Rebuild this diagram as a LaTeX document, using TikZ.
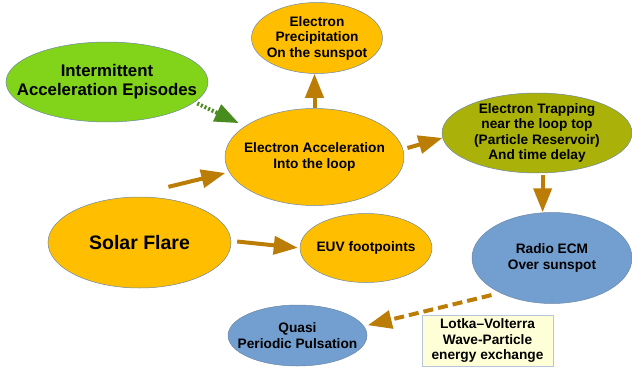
\documentclass[tikz,border=0pt]{standalone}
\usepackage{fontspec}
\setmainfont{Liberation Sans}
\usetikzlibrary{shapes.geometric, arrows.meta, calc}
\definecolor{amber}{RGB}{255,191,0}
\definecolor{lime}{RGB}{129,212,26}
\definecolor{olive}{RGB}{170,178,10}
\definecolor{skyblue}{RGB}{114,159,207}
\definecolor{rim}{RGB}{110,135,165}
\definecolor{arrowbrown}{RGB}{187,125,5}
\definecolor{arrowgreen}{RGB}{72,140,32}
\definecolor{notefill}{RGB}{255,255,215}
\definecolor{noteline}{RGB}{180,199,220}
\tikzset{
  bubble/.style={ellipse, draw=rim, line width=0.5pt, inner sep=0pt},
  txt/.style={align=center, font=\fontsize{13.7}{15.5}\selectfont\bfseries},
  flow/.style={-{Triangle[length=24pt,width=18pt]}, line width=4pt, draw=arrowbrown},
  dotflow/.style={-{Triangle[length=24pt,width=18pt]}, line width=4pt, draw=arrowgreen,
    dash pattern=on 2pt off 2pt},
  dashflow/.style={flow, dash pattern=on 10pt off 5pt},
  note/.style={rectangle, draw=noteline, line width=0.7pt, fill=notefill, inner sep=2pt}
}
\begin{document}
\begin{tikzpicture}[x=1pt,y=1pt]
  \useasboundingbox (0,0) rectangle (632,368);

  % the ellipses
  \node[bubble, fill=lime, minimum width=202pt, minimum height=80pt,
    label={[align=center, font=\fontsize{16.8}{19}\selectfont\bfseries]center:{Intermittent\\Acceleration Episodes}}] (inter) at (107,286) {};
  \node[bubble, fill=amber, minimum width=131pt, minimum height=71pt,
    label={[txt]center:{Electron\\Precipitation\\On the sunspot}}] (precip) at (317,330) {};
  \node[bubble, fill=amber, minimum width=179pt, minimum height=97pt,
    label={[txt]center:{Electron Acceleration\\Into the loop}}] (accel) at (314.5,211) {};
  \node[bubble, fill=olive, minimum width=190pt, minimum height=80pt,
    label={[txt]center:{Electron Trapping\\near the loop top\\(Particle Reservoir)\\And time delay}}] (trap) at (537,235) {};
  \node[bubble, fill=amber, minimum width=183pt, minimum height=91pt,
    label={[font=\fontsize{19.5}{22}\selectfont\bfseries]center:Solar Flare}] (flare) at (139.5,125.5) {};
  \node[bubble, fill=amber, minimum width=132pt, minimum height=69pt,
    label={[txt]center:EUV footpoints}] (euv) at (366,120) {};
  \node[bubble, fill=skyblue, minimum width=160pt, minimum height=91pt,
    label={[txt]center:{Radio ECM\\Over sunspot}}] (radio) at (552,110) {};
  \node[bubble, fill=skyblue, minimum width=139pt, minimum height=61pt,
    label={[txt]center:{Quasi\\Periodic Pulsation}}] (qpp) at (297.5,32.5) {};

  \node[note, txt, minimum width=131pt, minimum height=51pt] (lotka) at (487.5,27.5)
    {Lotka--Volterra\\Wave-Particle\\energy exchange};

  % arrows
  \draw[dotflow, shorten <=3pt, shorten >=7pt] (inter.-13) -- (accel.156);
  \draw[flow, shorten <=44pt, shorten >=4pt] (flare.107) -- (accel.190);
  \draw[flow] (accel.north) -- (accel.north |- precip.south);
  \draw[flow, shorten <=4.5pt] (accel.5.6) -- (trap.183);
  \draw[flow, shorten <=2pt] (trap.-82.5) -- (trap.-82.5 |- radio.north);
  \draw[flow, shorten <=6pt, shorten >=2pt] (flare.1) -- (euv.west);
  \draw[dashflow, shorten <=9pt, shorten >=4pt] (radio.214) -- (qpp.8);
\end{tikzpicture}
\end{document}
